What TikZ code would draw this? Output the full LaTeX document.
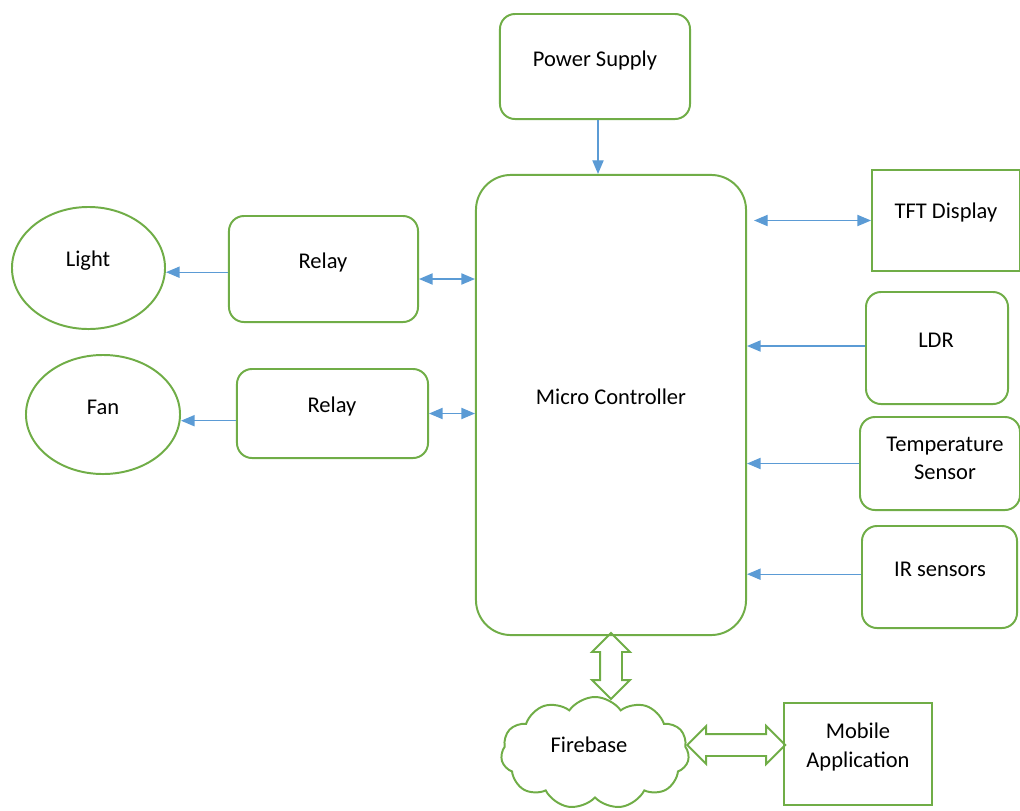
\documentclass[tikz,border=0pt]{standalone}
\usepackage{fontspec}
\setmainfont{Carlito}
\usetikzlibrary{arrows.meta,positioning,calc,shapes.geometric,shapes.symbols,shapes.arrows}

\definecolor{boxgreen}{HTML}{70AD47}
\definecolor{linkblue}{HTML}{5B9BD5}

\begin{document}
\begin{tikzpicture}[
  x=0.025cm,
  y=-0.025cm,
  every node/.style={font=\fontsize{16}{20}\selectfont, align=center},
  block/.style={draw=boxgreen, line width=1.4pt, rounded corners=0.375cm},
  plainbox/.style={draw=boxgreen, line width=1.4pt},
  device/.style={ellipse, draw=boxgreen, line width=1.4pt},
  link/.style={linkblue, line width=0.9pt, -{Triangle[length=3.4mm,width=2.8mm]}},
  twoway/.style={link, {Triangle[length=3.4mm,width=2.8mm]}-{Triangle[length=3.4mm,width=2.8mm]}},
  blockarrow/.style={double arrow, draw=boxgreen, line width=1.4pt, inner sep=0.25cm,
    double arrow head extend=0.2cm, double arrow head indent=0pt}
]
  \useasboundingbox (0,0) rectangle (1020,810);

  % main blocks
  \node[block, minimum width=6.75cm, minimum height=11.5cm, rounded corners=0.875cm] (mc) at (611,405) {};
  \node at (611,397) {Micro Controller};
  \node[block, minimum width=4.75cm, minimum height=2.625cm] (power) at (595,66.5) {};
  \node at (595,60) {Power Supply};

  % right side
  \node[plainbox, minimum width=3.7cm, minimum height=2.525cm] (tft) at (946,220.5) {};
  \node at (946,212) {TFT Display};
  \node[block, minimum width=3.55cm, minimum height=2.8cm] (ldr) at (937,348) {};
  \node at (936,340) {LDR};
  \node[block, minimum width=4cm, minimum height=2.325cm] (temp) at (940,463.5) {};
  \node at (945,458) {Temperature\\Sensor};
  \node[block, minimum width=3.875cm, minimum height=2.55cm] (ir) at (939.5,577) {};
  \node at (940,569) {IR sensors};

  % left side
  \node[block, minimum width=4.725cm, minimum height=2.65cm] (relaya) at (323.5,269) {};
  \node at (323,262) {Relay};
  \node[block, minimum width=4.775cm, minimum height=2.225cm] (relayb) at (332.5,413.5) {};
  \node at (332,406) {Relay};
  \node[device, minimum width=3.825cm, minimum height=3.05cm] (light) at (88.5,268) {};
  \node at (88,261) {Light};
  \node[device, minimum width=3.85cm, minimum height=2.975cm] (fan) at (103,414.5) {};
  \node at (103,407) {Fan};

  % bottom
  \node[cloud, draw=boxgreen, line width=1.4pt, cloud puffs=11, cloud puff arc=110,
    cloud ignores aspect, minimum width=4.7cm, minimum height=2.8cm] (fb) at (595,753) {};
  \node at (589,745) {Firebase};
  \node[plainbox, minimum width=3.7cm, minimum height=2.55cm] (mobile) at (858,754) {};
  \node at (858,747) {Mobile\\Application};

  % connectors
  \draw[link] ([xshift=0.075cm]power.south) -- ([xshift=0.075cm]power.south |- mc.north);
  \draw[twoway, shorten <=5pt] (mc.east |- tft.west) -- (tft.west);
  \draw[link] ([yshift=0.05cm]ldr.west) -- ([yshift=0.05cm]ldr.west -| mc.east);
  \draw[link] (temp.west) -- (temp.west -| mc.east);
  \draw[link] ([yshift=0.07cm]ir.west) -- ([yshift=0.07cm]ir.west -| mc.east);
  \draw[twoway] ([yshift=-0.25cm]relaya.east) -- ([yshift=-0.25cm]relaya.east -| mc.west);
  \draw[twoway] (relayb.east) -- (relayb.east -| mc.west);
  \draw[link] ([yshift=-0.08cm]relaya.west) -- ([yshift=-0.08cm]relaya.west -| light.east);
  \draw[link] ([yshift=-0.18cm]relayb.west) -- ([yshift=-0.18cm]relayb.west -| fan.east);

  \node[blockarrow, rotate=90, minimum height=1.65cm] (mcfb) at ($(mc.south)!0.5!(mc.south |- fb.north)$) {};
  \node[blockarrow, minimum height=2.45cm, yshift=0.225cm] (fbmob) at ($(fb.east |- mobile.west)!0.5!(mobile.west)$) {};
\end{tikzpicture}
\end{document}
